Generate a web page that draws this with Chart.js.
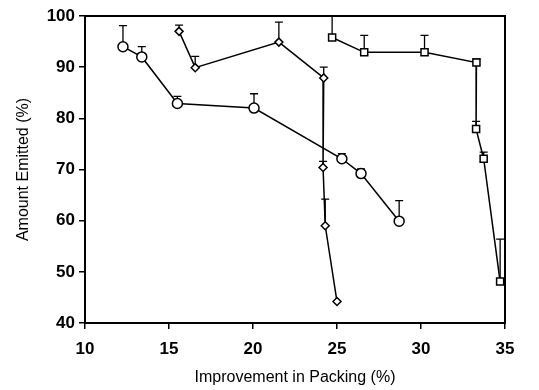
<!DOCTYPE html>
<html>
<head>
<meta charset="utf-8">
<script src="https://cdn.jsdelivr.net/npm/chart.js@4/dist/chart.umd.min.js"></script>
<style>
  html, body { margin: 0; padding: 0; background: #fff; }
  #wrap { width: 539px; height: 390px; }
</style>
</head>
<body>
<div id="wrap"><canvas id="c" width="539" height="390"></canvas></div>
<script>
// data
const circleX = [12.26, 13.38, 15.5, 20.06, 25.29, 26.43, 28.7];
const circleY = [94.0, 92.0, 82.9, 82.0, 72.1, 69.2, 59.9];
const circleErr = [98.1, 94.0, 84.3, 84.8, 73.1, 70.1, 63.9];

const diamondX = [15.6, 16.56, 21.54, 24.21, 24.17, 24.3, 25.0];
const diamondY = [97.0, 89.9, 94.9, 87.9, 70.4, 59.0, 44.2];
const diamondErr = [98.2, 92.1, 98.8, 90.0, 71.6, 64.2, null];

const squareX = [24.71, 26.62, 30.21, 33.3, 33.28, 33.73, 34.71];
const squareY = [95.8, 92.9, 92.9, 90.9, 77.9, 72.1, 48.1];
const squareErr = [101, 96.2, 96.2, 91.6, 79.4, 73.4, 56.4];

const xTicks = [10, 15, 20, 25, 30, 35];
const yTicks = [40, 50, 60, 70, 80, 90, 100];

function pts(xs, ys) {
  return xs.map((x, i) => ({ x: x, y: ys[i] }));
}

function series(xs, ys, errs, style, radius) {
  return {
    data: pts(xs, ys),
    errTop: errs,
    showLine: true,
    borderColor: '#000',
    borderWidth: 1.5,
    pointStyle: style,
    pointRadius: radius,
    pointBackgroundColor: '#fff',
    pointBorderColor: '#000',
    pointBorderWidth: 1.5,
    tension: 0
  };
}

// upper error bars + box frame
const errorBars = {
  id: 'errorBars',
  beforeDatasetsDraw(chart) {
    const ctx = chart.ctx;
    const xs = chart.scales.x, ys = chart.scales.y;
    const area = chart.chartArea;
    ctx.save();
    ctx.beginPath();
    ctx.rect(area.left, area.top - 1, area.right - area.left, area.bottom - area.top + 2);
    ctx.clip();
    ctx.strokeStyle = '#000';
    ctx.lineWidth = 1.3;
    chart.data.datasets.forEach(ds => {
      ds.data.forEach((p, i) => {
        const top = ds.errTop[i];
        if (top == null) return;
        const px = xs.getPixelForValue(p.x);
        const py = ys.getPixelForValue(p.y);
        const ty = ys.getPixelForValue(top);
        ctx.beginPath();
        ctx.moveTo(px, py);
        ctx.lineTo(px, ty);
        ctx.moveTo(px - 4, ty);
        ctx.lineTo(px + 4, ty);
        ctx.stroke();
      });
    });
    ctx.restore();
  },
  afterDraw(chart) {
    const ctx = chart.ctx;
    const a = chart.chartArea;
    ctx.save();
    ctx.strokeStyle = '#000';
    ctx.lineWidth = 2;
    ctx.strokeRect(a.left, a.top, a.right - a.left, a.bottom - a.top);
    ctx.restore();
  }
};

new Chart(document.getElementById('c'), {
  type: 'scatter',
  data: {
    datasets: [
      series(circleX, circleY, circleErr, 'circle', 5),
      series(diamondX, diamondY, diamondErr, 'rectRot', 4),
      series(squareX, squareY, squareErr, 'rect', 5)
    ]
  },
  options: {
    responsive: false,
    animation: false,
    layout: { padding: { top: 16, right: 34, left: 0, bottom: 0 } },
    plugins: { legend: { display: false }, tooltip: { enabled: false } },
    scales: {
      x: {
        type: 'linear',
        min: 10, max: 35,
        afterBuildTicks: s => { s.ticks = xTicks.map(v => ({ value: v })); },
        afterFit: s => { s.height = 67; },
        grid: { drawOnChartArea: false, drawTicks: true, tickLength: 6, color: '#000', lineWidth: 1.5 },
        border: { color: '#000', width: 2 },
        ticks: { color: '#000', padding: 10, maxRotation: 0, font: { family: 'Liberation Sans, Arial', size: 17, weight: 'bold' } },
        title: { display: true, text: 'Improvement in Packing (%)', color: '#000', padding: { top: 0, bottom: 3 }, font: { family: 'Liberation Sans, Arial', size: 16 } }
      },
      y: {
        type: 'linear',
        min: 40, max: 100,
        afterBuildTicks: s => { s.ticks = yTicks.map(v => ({ value: v })); },
        afterFit: s => { s.width = 85; },
        grid: { drawOnChartArea: false, drawTicks: true, tickLength: 6, color: '#000', lineWidth: 1.5 },
        border: { color: '#000', width: 2 },
        ticks: { color: '#000', padding: 4, font: { family: 'Liberation Sans, Arial', size: 17, weight: 'bold' } },
        title: { display: true, text: 'Amount Emitted (%)', color: '#000', padding: { top: 14, bottom: 0 }, font: { family: 'Liberation Sans, Arial', size: 16 } }
      }
    }
  },
  plugins: [errorBars]
});
</script>
</body>
</html>
